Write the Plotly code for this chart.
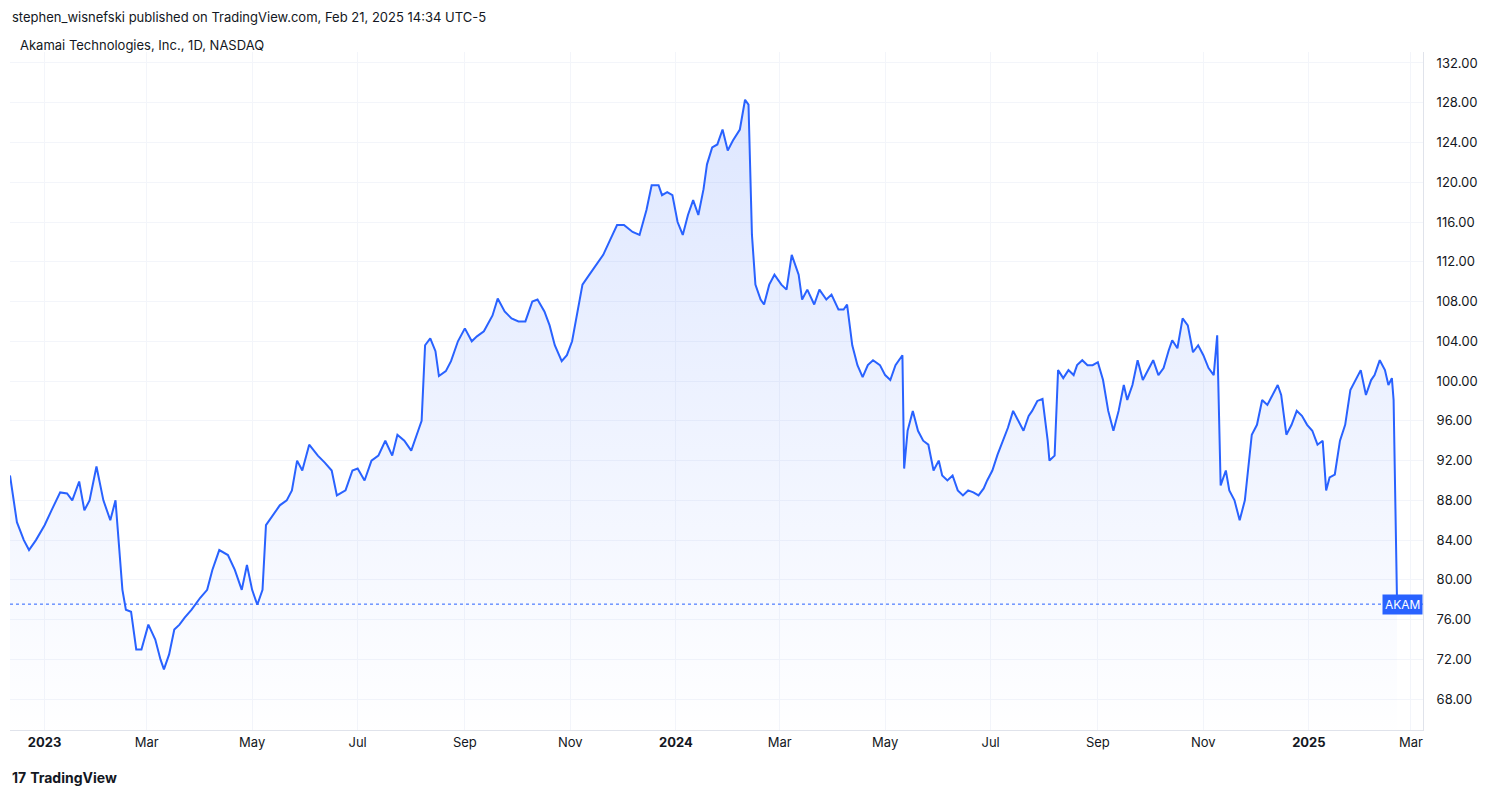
import datetime as dt

import plotly.graph_objects as go

BASE = dt.date(2023, 1, 1)

# day offsets from 2023-01-01 and closing prices
day_offsets = [
    -20, -16, -12, -9, -5, 0, 4, 9, 13, 16, 20, 23, 26, 30, 34, 38, 41, 43, 45, 47,
    50, 53, 56, 60, 64, 67, 69, 72, 75, 78, 81, 85, 90, 94, 97, 101, 106, 110, 114, 117,
    120, 123, 126, 128, 132, 136, 140, 143, 146, 149, 153, 158, 162, 166, 169, 174, 178, 181, 185, 189,
    193, 197, 201, 204, 208, 212, 216, 218, 220, 223, 226, 228, 232, 235, 239, 243, 247, 250, 254, 259,
    262, 266, 270, 274, 278, 282, 285, 289, 292, 295, 299, 302, 305, 308, 311, 315, 319, 323, 327, 331,
    335, 340, 344, 348, 351, 355, 357, 360, 363, 366, 369, 372, 375, 378, 381, 383, 386, 389, 392, 395,
    398, 402, 405, 407, 409, 411, 414, 416, 419, 422, 426, 429, 432, 436, 438, 441, 445, 448, 452, 455,
    459, 462, 464, 467, 470, 473, 476, 479, 483, 486, 489, 492, 496, 497, 499, 502, 505, 508, 511, 514,
    517, 519, 522, 525, 528, 531, 534, 537, 540, 543, 545, 548, 551, 554, 557, 560, 563, 566, 569, 571,
    574, 577, 580, 581, 584, 586, 589, 592, 595, 597, 600, 603, 606, 609, 612, 615, 618, 621, 624, 626,
    629, 632, 635, 638, 641, 644, 647, 650, 652, 655, 658, 661, 664, 667, 670, 673, 676, 678, 680, 683,
    685, 688, 691, 694, 696, 698, 701, 704, 707, 710, 713, 715, 718, 721, 724, 727, 730, 733, 736, 739,
    741, 743, 746, 749, 752, 755, 758, 761, 764, 767, 769, 772, 775, 777, 779, 780, 782,
]
prices = [
    90.5, 85.8, 84.0, 83.0, 84.0, 85.5, 87.0, 88.8, 88.7, 88.0, 89.9, 87.0, 88.0, 91.4, 88.0, 86.0, 88.0, 83.0, 79.0, 77.0,
    76.8, 73.0, 73.0, 75.5, 74.0, 72.0, 71.0, 72.5, 75.0, 75.5, 76.2, 77.0, 78.2, 79.0, 81.0, 83.0, 82.5, 81.0, 79.0, 81.5,
    79.0, 77.5, 79.0, 85.5, 86.5, 87.5, 88.0, 89.0, 92.0, 91.0, 93.6, 92.5, 91.8, 91.0, 88.5, 89.0, 91.0, 91.2, 90.0, 92.0,
    92.5, 94.0, 92.5, 94.6, 94.0, 93.0, 95.0, 96.0, 103.6, 104.3, 103.0, 100.5, 101.0, 102.0, 104.0, 105.3, 104.0, 104.5, 105.0, 106.6,
    108.3, 107.0, 106.3, 106.0, 106.0, 108.0, 108.2, 107.0, 105.6, 103.6, 102.0, 102.6, 104.0, 107.0, 109.7, 110.7, 111.7, 112.7, 114.2, 115.7,
    115.7, 115.0, 114.7, 117.2, 119.7, 119.7, 118.7, 119.0, 118.7, 116.0, 114.7, 116.7, 118.2, 116.7, 119.3, 121.8, 123.5, 123.8, 125.3, 123.2,
    124.2, 125.3, 128.3, 127.8, 114.7, 109.7, 108.2, 107.7, 109.7, 110.7, 109.7, 109.2, 112.7, 110.7, 108.2, 109.2, 107.7, 109.2, 108.2, 108.7,
    107.2, 107.2, 107.7, 103.6, 101.6, 100.4, 101.6, 102.1, 101.6, 100.6, 100.1, 101.6, 102.6, 91.2, 95.0, 97.0, 95.0, 94.0, 93.6, 91.0,
    92.0, 90.5, 90.0, 90.5, 89.0, 88.5, 89.0, 88.8, 88.5, 89.2, 90.0, 91.0, 92.6, 94.0, 95.3, 97.0, 96.0, 95.0, 96.5, 97.0,
    98.0, 98.2, 94.0, 92.0, 92.5, 101.1, 100.3, 101.1, 100.6, 101.6, 102.1, 101.6, 101.6, 101.9, 100.1, 97.0, 95.0, 97.0, 99.6, 98.1,
    99.6, 102.1, 100.1, 101.1, 102.1, 100.6, 101.3, 103.1, 104.1, 103.3, 106.3, 105.6, 102.9, 103.6, 102.6, 101.3, 100.6, 104.6, 89.5, 91.0,
    89.0, 88.0, 86.0, 88.0, 91.5, 94.6, 95.6, 98.1, 97.6, 98.6, 99.6, 98.6, 94.6, 95.6, 97.0, 96.5, 95.6, 95.0, 93.6, 94.0,
    89.0, 90.3, 90.6, 94.0, 95.6, 99.1, 100.1, 101.1, 98.6, 100.1, 100.6, 102.1, 101.1, 99.6, 100.3, 98.1, 77.56,
]
dates = [BASE + dt.timedelta(days=d) for d in day_offsets]
last_price = prices[-1]

tick_dates = ["2023-01-01", "2023-03-01", "2023-05-01", "2023-07-01", "2023-09-01", "2023-11-01",
              "2024-01-01", "2024-03-01", "2024-05-01", "2024-07-01", "2024-09-01", "2024-11-01",
              "2025-01-01", "2025-03-01"]
tick_text = ["<b>2023</b>", "Mar", "May", "Jul", "Sep", "Nov", "<b>2024</b>", "Mar", "May", "Jul",
             "Sep", "Nov", "<b>2025</b>", "Mar"]
y_ticks = list(range(68, 133, 4))

BLUE = "#2962FF"
FONT = "Inter, Roboto, sans-serif"

fig = go.Figure()
fig.add_trace(go.Scatter(
    x=dates, y=prices, mode="lines",
    line=dict(color=BLUE, width=2),
    fill="tozeroy",
    fillgradient=dict(type="vertical", start=64, stop=130,
                      colorscale=[[0, "rgba(41,98,255,0.0)"], [1, "rgba(41,98,255,0.16)"]]),
    hoverinfo="x+y", showlegend=False,
))

fig.add_hline(y=last_price, line=dict(color=BLUE, width=1, dash="dot"))

# page has an 8px body margin, so the figure is sized/shifted to land where the reference does
fig.update_layout(
    width=1484, height=781,
    paper_bgcolor="white", plot_bgcolor="white",
    margin=dict(l=2, r=69, t=44, b=59),
    font=dict(family=FONT, size=13, color="#131722"),
    xaxis=dict(
        range=[BASE + dt.timedelta(days=-20), BASE + dt.timedelta(days=797)],
        tickvals=tick_dates, ticktext=tick_text,
        showgrid=True, gridcolor="#f3f5fa", zeroline=False,
        showline=True, linecolor="#e0e3eb", ticks="",
        tickfont=dict(size=13, color="#131722"),
    ),
    yaxis=dict(
        range=[64.9, 133.1], side="right",
        tickvals=y_ticks, ticktext=[f"{v:.2f}" for v in y_ticks],
        showgrid=True, gridcolor="#f3f5fa", zeroline=False,
        showline=True, linecolor="#e0e3eb", ticks="", ticklabelstandoff=10,
        tickfont=dict(size=13, color="#131722"),
    ),
    annotations=[
        dict(text="stephen_wisnefski published on TradingView.com, Feb 21, 2025 14:34 UTC-5",
             xref="paper", yref="paper", x=0.0, y=1.0, yshift=35, xanchor="left", yanchor="middle",
             showarrow=False, font=dict(size=13, color="#131722")),
        dict(text="Akamai Technologies, Inc., 1D, NASDAQ",
             xref="paper", yref="paper", x=0.0, y=1.0, yshift=7, xshift=8, xanchor="left", yanchor="middle",
             showarrow=False, font=dict(size=13, color="#131722")),
        dict(text="<b>17</b> <b>TradingView</b>",
             xref="paper", yref="paper", x=0.0, y=0.0, yshift=-47, xanchor="left", yanchor="middle",
             showarrow=False, font=dict(size=14, color="#131722")),
        dict(text="AKAM", xref="paper", yref="y", x=1.0, y=last_price, xanchor="right", yanchor="middle",
             showarrow=False, bgcolor=BLUE, font=dict(size=12, color="white"), borderpad=2),
    ],
)

fig.write_html("out.html")
